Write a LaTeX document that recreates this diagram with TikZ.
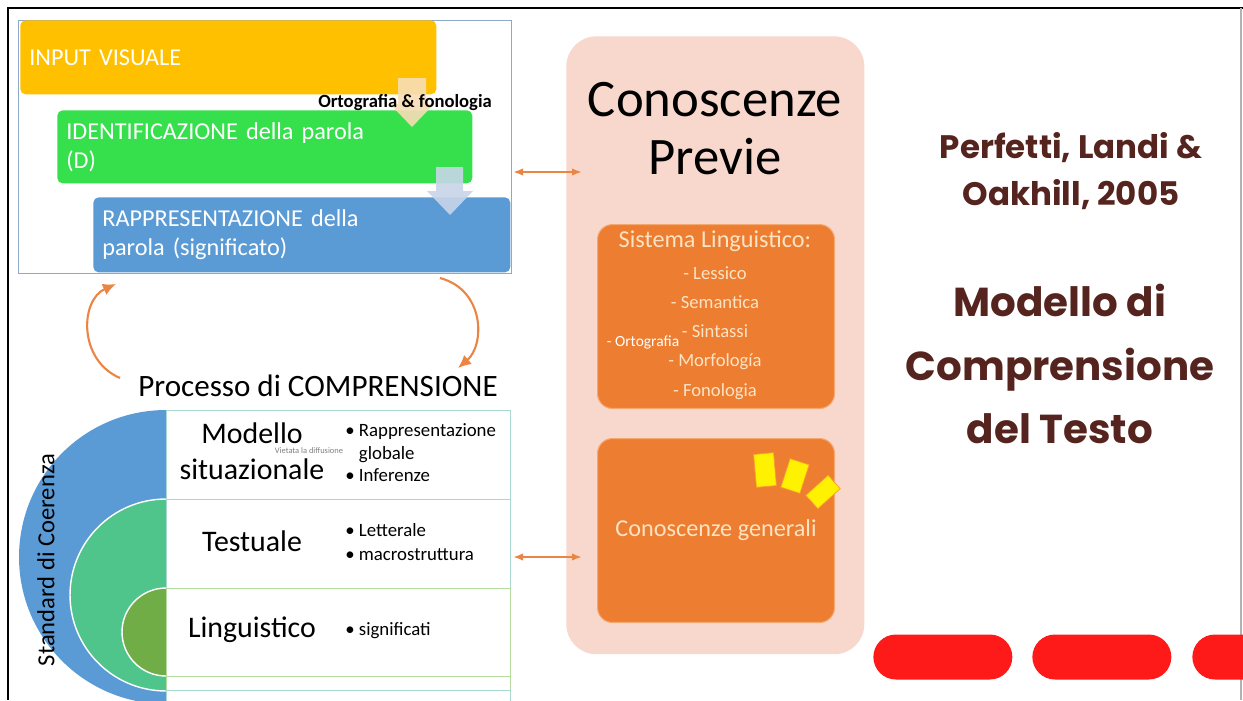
\documentclass[tikz,border=0pt]{standalone}
\usepackage{fontspec}
\setmainfont{Carlito}
\newfontfamily\headfont{Poppins}
\usepackage{tikz}
\usetikzlibrary{positioning,arrows.meta,shapes.misc}
\definecolor{yellowbox}{HTML}{FFC000}
\definecolor{greenbox}{HTML}{36E04C}
\definecolor{bluebox}{HTML}{5B9BD5}
\definecolor{frameline}{HTML}{8EA9C8}
\definecolor{peach}{HTML}{F8DDB6}
\definecolor{paleblue}{HTML}{C8D5E8}
\definecolor{curve}{HTML}{EB8543}
\definecolor{pinkbg}{HTML}{F8D8CD}
\definecolor{orangebox}{HTML}{ED7D31}
\definecolor{orangeedge}{HTML}{F3A86F}
\definecolor{cream}{HTML}{FBE3C3}
\definecolor{ringblue}{HTML}{5B9BD5}
\definecolor{ringgreen}{HTML}{4FC58B}
\definecolor{ringolive}{HTML}{70AD47}
\definecolor{rowline}{HTML}{A8D8D0}
\definecolor{rowgreen}{HTML}{B5DBA0}
\definecolor{brown}{HTML}{55241E}
\definecolor{pillred}{HTML}{FF1A1A}

\begin{document}
\begin{tikzpicture}[x=0.02cm, y=-0.02cm,
  wordbox/.style={anchor=north west, rounded corners=3pt, text=white, align=left, font=\fontsize{13.8}{16.5}\selectfont, inner xsep=0.18cm, inner ysep=0},
  orangecard/.style={anchor=north west, fill=orangebox, draw=orangeedge, line width=0.6pt, rounded corners=0.3cm, minimum width=4.74cm, minimum height=3.68cm, text=cream, font=\fontsize{13.8}{16}\selectfont},
  rowcell/.style={anchor=north west, draw=rowline, line width=0.8pt, minimum width=6.88cm, inner sep=0},
  levelname/.style={font=\fontsize{17}{18}\selectfont, align=center, inner sep=0},
  bullets/.style={anchor=west, align=left, inner sep=0, font=\fontsize{10.7}{12.8}\selectfont},
  spark/.style={fill=yellow, draw=orange!80, line width=0.4pt, inner sep=0},
  pill/.style={rounded rectangle, fill=pillred, minimum width=2.78cm, minimum height=0.9cm, inner sep=0, anchor=west},
  headtxt/.style={text=brown, align=center, font=\headfont\bfseries},
  cyclearr/.style={-{Latex[length=2.6mm, width=2.4mm]}, line width=1.2pt, curve},
  dblarr/.style={{Latex[length=2mm]}-{Latex[length=2mm]}, line width=1.3pt, curve}]
\useasboundingbox (0,0) rectangle (1243,700);
\fill[white] (0,0) rectangle (1243,700);
% slide frame
\draw[line width=1.7pt] (8,700) -- (8,8) -- (1243,8);
\draw[gray!60, line width=0.8pt] (1241,8) -- (1241,700);

% word processing stack
\node[anchor=north west, draw=frameline, line width=0.5pt, minimum width=9.86cm, minimum height=5.06cm, inner sep=0] (wordframe) at (18,20) {};
\node[wordbox, fill=yellowbox, text width=7.96cm, minimum height=1.48cm] (visual) at (20,20) {INPUT VISUALE};
\node[wordbox, fill=greenbox, text width=7.94cm, minimum height=1.46cm] (ident) at (57,110) {IDENTIFICAZIONE della parola\\(D)};
\node[wordbox, fill=bluebox, text width=7.98cm, minimum height=1.50cm] (repres) at (93,197) {RAPPRESENTAZIONE della\\parola (significato)};
\fill[peach, opacity=0.9] (398,78) -- (426,78) -- (426,104) -- (434,104) -- (412,127) -- (390,104) -- (398,104) -- cycle;
\fill[paleblue, opacity=0.9] (436,167) -- (463,167) -- (463,191) -- (473,191) -- (450,215) -- (427,191) -- (436,191) -- cycle;
\node[font=\fontsize{10.6}{12}\selectfont\bfseries] (ortfon) at (405,103) {Ortografia \& fonologia};

% comprehension loop
\node[font=\fontsize{17.7}{20}\selectfont] (process) at (318,386) {Processo di COMPRENSIONE};
\coordinate (loopA) at (120,378);
\coordinate (loopB) at (116,284);
\coordinate (loopC) at (440,278);
\coordinate (loopD) at (458,368);
\draw[cyclearr] (loopA) .. controls (78,360) and (80,300) .. (loopB);
\draw[cyclearr] (loopC) .. controls (485,290) and (485,345) .. (loopD);

% coherence levels
\begin{scope}
  \clip (0,400) rectangle (166,710);
  \fill[ringblue] (166,557) circle[radius=2.94cm];
  \filldraw[ringgreen, draw=white, line width=0.8pt] (166,595) circle[radius=1.92cm];
  \filldraw[ringolive, draw=white, line width=0.8pt] (166,632) circle[radius=0.88cm];
\end{scope}
\node[rotate=90, font=\fontsize{14}{16}\selectfont] (coher) at (46,560) {Standard di Coerenza};
\node[rowcell, minimum height=1.78cm] (rowsit) at (166,410) {};
\node[rowcell, minimum height=1.78cm] (rowtxt) at (166,499) {};
\node[rowcell, draw=rowgreen, minimum height=1.76cm] (rowling) at (166,588) {};
\node[rowcell, draw=rowgreen, minimum height=0.28cm] (rowextra) at (166,676) {};
\node[rowcell, minimum height=0.40cm] (rowlast) at (166,690) {};
\node[levelname] (sitname1) at (252,433) {Modello};
\node[levelname] (sitname2) at (252,469) {situazionale};
\node[levelname] (txtname) at (252,541) {Testuale};
\node[levelname] (lingname) at (252,630) {Linguistico};
\node[bullets] (sitlist) at (345,453) {\textbullet\ Rappresentazione\\\phantom{\textbullet\ }globale\\\textbullet\ Inferenze};
\node[bullets, font=\fontsize{10.7}{13.6}\selectfont] (txtlist) at (345,542) {\textbullet\ Letterale\\\textbullet\ macrostruttura};
\node[bullets] (linglist) at (345,631) {\textbullet\ significati};
\node[text=gray, inner sep=0, font=\fontsize{4.8}{6}\selectfont] (notice) at (309,450.5) {Vietata la diffusione};

% prior knowledge
\node[anchor=north west, fill=pinkbg, rounded corners=0.6cm, minimum width=5.96cm, minimum height=12.36cm, inner sep=0] (knowbox) at (566,36) {};
\node[align=center, font=\fontsize{30}{33}\selectfont] (knowtitle) at (715,129) {Conoscenze\\Previe};
\node[orangecard] (lingsys) at (597,224) {};
\node[text=cream, font=\fontsize{13.8}{16}\selectfont] (lingtitle) at (715,241) {Sistema Linguistico:};
\node[text=cream, align=center, font=\fontsize{10.6}{16.6}\selectfont] (linglist2) at (715,333) {- Lessico\\- Semantica\\- Sintassi\\- Morfología\\- Fonologia};
\node[text=white, font=\fontsize{8.8}{10}\selectfont] (orto) at (643,342) {- Ortografia};
\node[orangecard] (genknow) at (597,438) {Conoscenze generali};
\node[spark, minimum width=0.40cm, minimum height=0.66cm, rotate=5] (spark1) at (765,470) {};
\node[spark, minimum width=0.40cm, minimum height=0.60cm, rotate=-18] (spark2) at (795,476) {};
\node[spark, minimum width=0.60cm, minimum height=0.36cm, rotate=42] (spark3) at (823,492) {};

% links between blocks
\coordinate (linkA) at (513,172);
\coordinate (linkB) at (582,172);
\coordinate (linkC) at (513,557);
\coordinate (linkD) at (582,557);
\draw[dblarr] (linkA) -- (linkB);
\draw[dblarr] (linkC) -- (linkD);

% title side
\node[headtxt, font=\headfont\bfseries\fontsize{18.5}{27}\selectfont] (authors) at (1071,171) {Perfetti, Landi \&\\Oakhill, 2005};
\node[headtxt, font=\headfont\bfseries\fontsize{23}{36}\selectfont] (title) at (1060,364) {Modello di\\Comprensione\\del Testo};
\node[pill] (pill1) at (873,657) {};
\node[pill] (pill2) at (1032,657) {};
\node[pill] (pill3) at (1192,657) {};
\end{tikzpicture}
\end{document}
